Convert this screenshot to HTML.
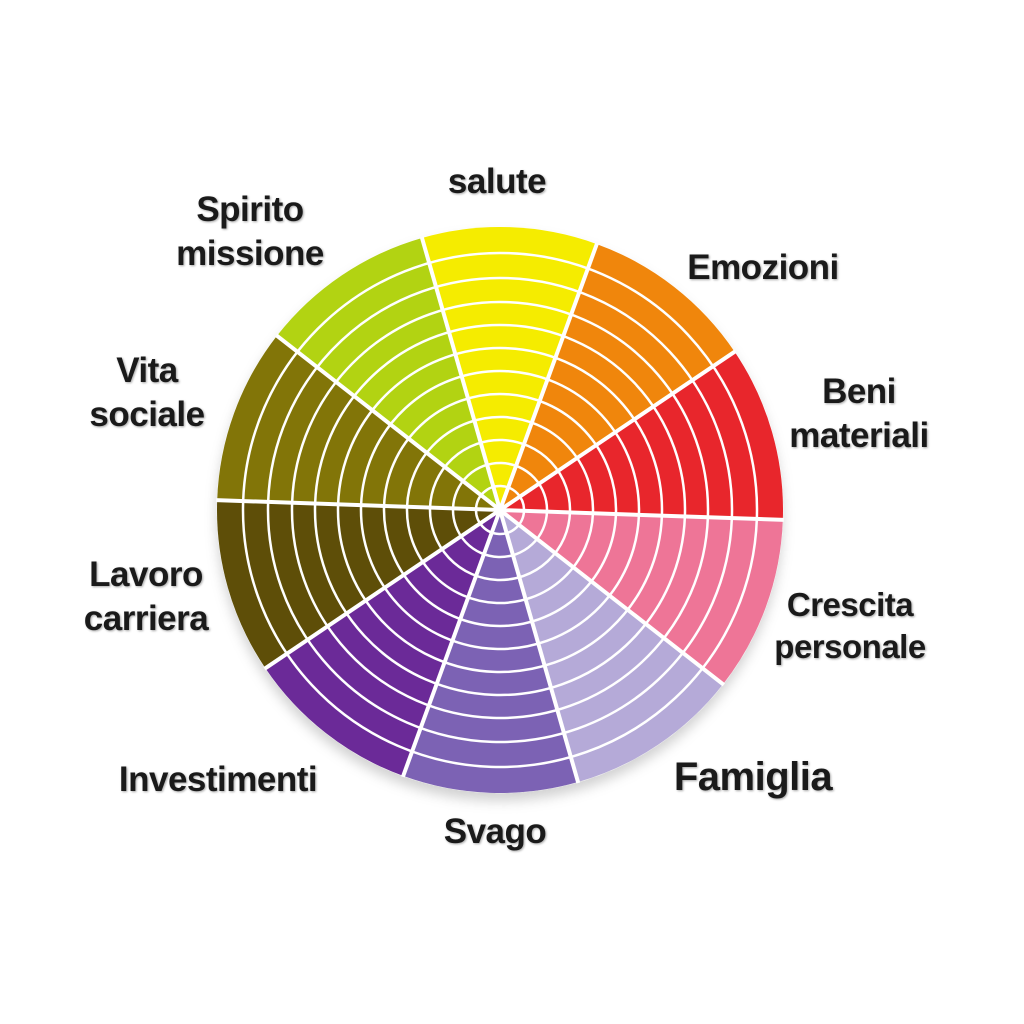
<!DOCTYPE html>
<html><head><meta charset="utf-8"><style>
html,body{margin:0;padding:0;background:#fff;}
body{width:1024px;height:1024px;position:relative;overflow:hidden;font-family:"Liberation Sans",sans-serif;}
.l{position:absolute;font-weight:bold;font-size:35px;color:#1a1a1a;text-align:center;line-height:44px;text-shadow:1px 1px 2px rgba(0,0,0,0.35);transform:translateX(-50%);white-space:nowrap;letter-spacing:-0.5px;}
</style></head><body>
<svg width="1024" height="1024" style="position:absolute;left:0;top:0">
<defs>
<path id="w" d="M0 0 L-87.45 -269.15 A283 283 0 0 1 87.45 -269.15 Z"/>
<filter id="sh" x="-10%" y="-10%" width="120%" height="125%"><feDropShadow dx="0" dy="8" stdDeviation="6" flood-color="#000" flood-opacity="0.18"/></filter>
</defs>
<g transform="translate(500,510) rotate(2)">
<circle r="283" fill="#fff" filter="url(#sh)"/>
<use href="#w" fill="#f5ec00" transform="rotate(0)"/>
<use href="#w" fill="#f0860c" transform="rotate(36)"/>
<use href="#w" fill="#e8262c" transform="rotate(72)"/>
<use href="#w" fill="#ee7597" transform="rotate(108)"/>
<use href="#w" fill="#b5aad8" transform="rotate(144)"/>
<use href="#w" fill="#7c62b4" transform="rotate(180)"/>
<use href="#w" fill="#6b2a98" transform="rotate(216)"/>
<use href="#w" fill="#5e4e08" transform="rotate(252)"/>
<use href="#w" fill="#827508" transform="rotate(288)"/>
<use href="#w" fill="#b2d312" transform="rotate(324)"/>
<g fill="none" stroke="#fff" stroke-width="2.5">
<circle r="24"/><circle r="47"/><circle r="70"/><circle r="93"/><circle r="116"/><circle r="139"/><circle r="162"/><circle r="185"/><circle r="208"/><circle r="232"/><circle r="257"/>
</g>
<g stroke="#fff" stroke-width="4">
<line x1="0" y1="0" x2="0" y2="-284" transform="rotate(18)"/>
<line x1="0" y1="0" x2="0" y2="-284" transform="rotate(54)"/>
<line x1="0" y1="0" x2="0" y2="-284" transform="rotate(90)"/>
<line x1="0" y1="0" x2="0" y2="-284" transform="rotate(126)"/>
<line x1="0" y1="0" x2="0" y2="-284" transform="rotate(162)"/>
<line x1="0" y1="0" x2="0" y2="-284" transform="rotate(198)"/>
<line x1="0" y1="0" x2="0" y2="-284" transform="rotate(234)"/>
<line x1="0" y1="0" x2="0" y2="-284" transform="rotate(270)"/>
<line x1="0" y1="0" x2="0" y2="-284" transform="rotate(306)"/>
<line x1="0" y1="0" x2="0" y2="-284" transform="rotate(342)"/>
</g>
</g>
</svg>
<div class="l" style="left:497px;top:160px">salute</div>
<div class="l" style="left:250px;top:188px">Spirito<br>missione</div>
<div class="l" style="left:763px;top:246px">Emozioni</div>
<div class="l" style="left:859px;top:370px">Beni<br>materiali</div>
<div class="l" style="left:147px;top:349px">Vita<br>sociale</div>
<div class="l" style="left:146px;top:553px">Lavoro<br>carriera</div>
<div class="l" style="left:850px;top:584px;font-size:33px;line-height:42px">Crescita<br>personale</div>
<div class="l" style="left:218px;top:758px">Investimenti</div>
<div class="l" style="left:753px;top:755px;font-size:40px">Famiglia</div>
<div class="l" style="left:495px;top:810px">Svago</div>
</body></html>
